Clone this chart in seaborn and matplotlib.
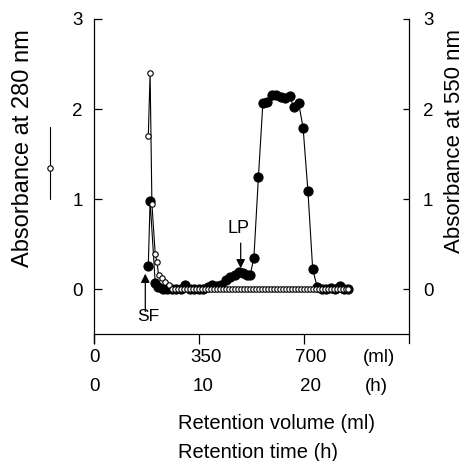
import matplotlib
matplotlib.use('Agg')
import matplotlib.pyplot as plt
import matplotlib.transforms as mtransforms
from matplotlib.lines import Line2D
import seaborn as sns

# absorbance at 280 nm (open circles, left axis)
vol_280 = [181, 187, 193, 204, 210, 215, 227, 238, 249,
           259, 269, 279, 289, 299, 309, 319, 329, 339, 349,
           359, 369, 379, 389, 399, 409, 419, 429, 439, 449,
           459, 469, 479, 489, 499, 509, 519, 529, 539, 549,
           559, 569, 579, 589, 599, 609, 619, 629, 639, 649,
           659, 669, 679, 689, 699, 709, 719, 729, 739, 749,
           759, 769, 779, 789, 799, 809, 819, 829, 839, 847]
abs_280 = [1.70, 2.40, 0.95, 0.39, 0.30, 0.16, 0.12, 0.08, 0.04,
           0, 0, 0, 0, 0, 0, 0, 0, 0, 0,
           0, 0, 0, 0, 0, 0, 0, 0, 0, 0,
           0, 0, 0, 0, 0, 0, 0, 0, 0, 0,
           0, 0, 0, 0, 0, 0, 0, 0, 0, 0,
           0, 0, 0, 0, 0, 0, 0, 0, 0, 0,
           0, 0, 0, 0, 0, 0, 0, 0, 0, 0]

# absorbance at 550 nm (filled circles, right axis)
vol_550 = [181, 187, 204, 214, 229, 244, 259, 274, 289, 304,
           319, 334, 349, 364, 379, 394, 409, 424, 439, 454,
           469, 484, 497, 509, 521, 533, 548, 563, 578, 592,
           607, 622, 637, 652, 667, 682, 697, 713, 729, 744,
           759, 774, 789, 804, 819, 834, 845]
abs_550 = [0.26, 0.98, 0.07, 0.02, 0, 0, 0, 0, 0, 0.04,
           0, 0, 0, 0, 0.02, 0.04, 0.03, 0.05, 0.10, 0.13,
           0.16, 0.19, 0.18, 0.16, 0.16, 0.35, 1.24, 2.07, 2.08, 2.16,
           2.15, 2.13, 2.12, 2.14, 2.02, 2.07, 1.79, 1.09, 0.22, 0.02,
           0, 0, 0.01, 0, 0.03, 0, 0]

ml_ticks = [0, 350, 700]
ml_labels = ['0', '350', '700']
h_labels = ['0', '10', '20']

sns.set_style('ticks')
plt.rcParams['font.family'] = ['Liberation Sans', 'DejaVu Sans']
plt.rcParams['text.color'] = 'black'
plt.rcParams['axes.labelcolor'] = 'black'
plt.rcParams['xtick.color'] = 'black'
plt.rcParams['ytick.color'] = 'black'

fig = plt.figure(figsize=(4.66, 4.61), dpi=100)
ax = fig.add_axes([94 / 466, 1 - 334 / 461, 315 / 466, 315 / 461])
ax2 = ax.twinx()

sns.lineplot(x=vol_550, y=abs_550, ax=ax2, color='black', lw=0.8,
             marker='o', markersize=6.6, markerfacecolor='black',
             markeredgecolor='black', estimator=None, sort=False)
sns.lineplot(x=vol_280, y=abs_280, ax=ax, color='black', lw=0.8,
             marker='o', markersize=3.9, markerfacecolor='white',
             markeredgecolor='black', markeredgewidth=0.8,
             estimator=None, sort=False)

# open circles drawn over the filled ones
ax.set_zorder(ax2.get_zorder() + 1)
ax.patch.set_visible(False)

for a in (ax, ax2):
    a.set_xlim(0, 1050)
    a.set_ylim(-0.5, 3)
    a.set_yticks([0, 1, 2, 3])
    a.set_xlabel('')
    a.set_ylabel('')
    a.spines['top'].set_visible(False)
    for s in a.spines.values():
        s.set_color('black')
        s.set_linewidth(0.9)

ax.spines['right'].set_visible(False)
ax2.spines['left'].set_visible(False)
ax2.spines['bottom'].set_visible(False)
ax.spines['left'].set_bounds(-0.6, 3)
ax2.spines['right'].set_bounds(-0.6, 3)

ax.set_xticks(ml_ticks)
ax.tick_params(axis='x', direction='out', length=7, width=0.9,
               colors='black', labelbottom=False)
ax.tick_params(axis='y', direction='in', length=6, width=0.9,
               colors='black', pad=8, labelsize=13.5)
ax2.tick_params(axis='y', direction='in', length=4, width=0.9,
                colors='black', pad=10, labelsize=13.5)

# two rows of bottom labels
trans = mtransforms.blended_transform_factory(ax.transData, ax.transAxes)
ml_pos = [3, 372, 723]
h_pos = [3, 365, 723]
for x, s in zip(ml_pos, ml_labels):
    ax.text(x, -0.076, s, transform=trans, ha='center', va='center', fontsize=13.5)
for x, s in zip(h_pos, h_labels):
    ax.text(x, -0.168, s, transform=trans, ha='center', va='center', fontsize=13.5)
ax.text(951, -0.076, '(ml)', transform=trans, ha='center', va='center', fontsize=13.5)
ax.text(941, -0.168, '(h)', transform=trans, ha='center', va='center', fontsize=13.5)

fig.text(178 / 466, 1 - 423 / 461, 'Retention volume (ml)', ha='left',
         va='center', fontsize=14.5)
fig.text(178 / 466, 1 - 452 / 461, 'Retention time (h)', ha='left',
         va='center', fontsize=14.5)

fig.text(23 / 466, 1 - 148 / 461, 'Absorbance at 280 nm', rotation=90,
         ha='center', va='center', fontsize=17)
fig.text(455 / 466, 1 - 141 / 461, 'Absorbance at 550 nm', rotation=90,
         ha='center', va='center', fontsize=16)

# symbol key next to the left label
fig.add_artist(Line2D([50 / 466, 50 / 466], [1 - 127 / 461, 1 - 199 / 461],
                      color='black', lw=0.8, transform=fig.transFigure))
fig.add_artist(Line2D([50 / 466], [1 - 168 / 461], marker='o', markersize=3.9,
                      markerfacecolor='white', markeredgecolor='black',
                      markeredgewidth=0.8, transform=fig.transFigure))

# SF and LP arrows
arrow = dict(arrowstyle='-|>', color='black', lw=0.9, mutation_scale=13,
             shrinkA=0, shrinkB=0)
ax.annotate('', xy=(171, 0.17), xytext=(171, -0.25), arrowprops=arrow)
ax.text(181, -0.31, 'SF', ha='center', va='center', fontsize=12.5)
ax.annotate('', xy=(489, 0.23), xytext=(489, 0.51), arrowprops=arrow)
ax.text(483, 0.67, 'LP', ha='center', va='center', fontsize=13)

fig.savefig('out.png', dpi=100)
